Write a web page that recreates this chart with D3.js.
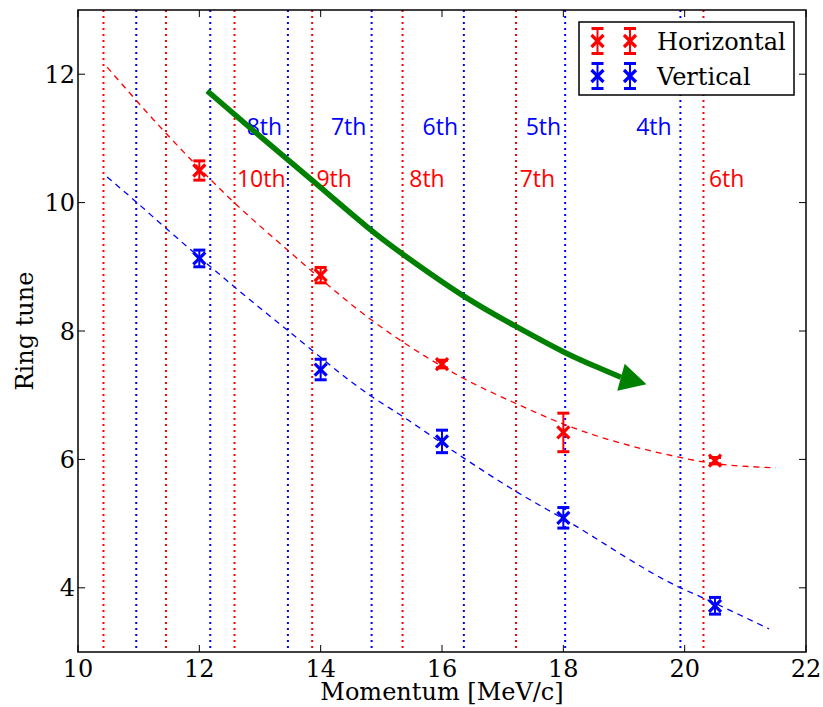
<!DOCTYPE html>
<html lang="en">
  <head>
    <meta charset="UTF-8" />
    <title>Ring tune vs momentum</title>
    <script src="https://cdnjs.cloudflare.com/ajax/libs/d3/7.8.5/d3.min.js"></script>
    <style>
      body { margin: 0; background: #fff; }
      svg { display: block; }
      .tick-label, .axis-label, .legend-text { font-family: "DejaVu Serif", serif; font-size: 24px; fill: #000; }
      .order-label { font-family: "Open Sans", sans-serif; font-size: 23px; }
    </style>
  </head>
  <body>
    <div id="chart"></div>
    <script>
      // data
      const xTicks = [10, 12, 14, 16, 18, 20, 22];
      const yTicks = [4, 6, 8, 10, 12];

      // resonance lines (momentum)
      const redLines = [10.42, 11.45, 12.58, 13.86, 15.35, 17.22, 20.31];
      const blueLines = [10.96, 12.18, 13.46, 14.84, 16.36, 18.03, 19.93];

      const blueLabels = ["8th", "7th", "6th", "5th", "4th"];
      const blueLabelX = [12.78, 14.17, 15.68, 17.38, 19.2];
      const blueLabelY = 11.06;
      const redLabels = ["10th", "9th", "8th", "7th", "6th"];
      const redLabelX = [12.62, 13.93, 15.46, 17.28, 20.4];
      const redLabelY = 10.25;

      // measured tunes
      const momentum = [12, 14, 16, 18, 20.5];
      const hTune = [10.5, 8.87, 7.485, 6.42, 5.98];
      const hErr = [0.15, 0.12, 0.06, 0.3, 0.05];
      const vTune = [9.13, 7.4, 6.28, 5.09, 3.72];
      const vErr = [0.13, 0.16, 0.175, 0.16, 0.13];

      // fitted curves (dashed)
      const hFitX = [10.48, 11.45, 12.575, 13.455, 14.84, 16.36, 17.22, 18.03, 19.93, 20.31, 21.5];
      const hFitY = [12.11, 11.08, 10.0, 9.26, 8.17, 7.26, 6.87, 6.54, 6.03, 5.96, 5.87];
      const vFitX = [10.48, 10.96, 11.45, 12.575, 13.455, 14.84, 15.35, 16.36, 17.22, 18.03, 19.93, 20.31, 21.39];
      const vFitY = [10.4, 10.01, 9.6, 8.69, 8.01, 6.98, 6.67, 6.02, 5.5, 5.06, 4.0, 3.84, 3.36];

      // green arrow
      const arrowX = [12.13, 12.89, 13.86, 14.84, 15.3, 16.36, 17.22, 18.03, 18.6, 18.95];
      const arrowY = [11.74, 11.12, 10.35, 9.55, 9.23, 8.52, 8.07, 7.65, 7.42, 7.28];
      const arrowTip = [19.37, 7.17];

      const width = 823;
      const height = 707;
      const margin = { left: 78, right: 17, top: 10, bottom: 55 };

      const x = d3.scaleLinear().domain([10, 22]).range([margin.left, width - margin.right]);
      const y = d3.scaleLinear().domain([3, 13]).range([height - margin.bottom, margin.top]);

      const svg = d3.select("#chart").append("svg").attr("width", width).attr("height", height);

      const plot = svg.append("g");

      // dotted resonance lines
      const vline = (vals, col) =>
        plot.append("g").selectAll("line").data(vals).join("line")
          .attr("x1", (d) => x(d)).attr("x2", (d) => x(d))
          .attr("y1", y(13)).attr("y2", y(3))
          .attr("stroke", col).attr("stroke-width", 2).attr("stroke-dasharray", "2,4");
      vline(redLines, "#ff0000");
      vline(blueLines, "#0000ff");

      // fit curves
      const line = d3.line().x((d) => x(d[0])).y((d) => y(d[1])).curve(d3.curveMonotoneX);
      plot.append("path").datum(d3.zip(hFitX, hFitY)).attr("d", line)
        .attr("fill", "none").attr("stroke", "#ff0000").attr("stroke-width", 1.3).attr("stroke-dasharray", "6,5");
      plot.append("path").datum(d3.zip(vFitX, vFitY)).attr("d", line)
        .attr("fill", "none").attr("stroke", "#0000ff").attr("stroke-width", 1.3).attr("stroke-dasharray", "6,5");

      // error bars with x markers
      function errbar(g, cx, cy, ytop, ybot, col) {
        g.append("line").attr("x1", cx).attr("x2", cx).attr("y1", ytop).attr("y2", ybot)
          .attr("stroke", col).attr("stroke-width", 2);
        [ytop, ybot].forEach((yy) =>
          g.append("line").attr("x1", cx - 6).attr("x2", cx + 6).attr("y1", yy).attr("y2", yy)
            .attr("stroke", col).attr("stroke-width", 3));
        const m = 6;
        g.append("path")
          .attr("d", `M${cx - m},${cy - m}L${cx + m},${cy + m}M${cx - m},${cy + m}L${cx + m},${cy - m}`)
          .attr("stroke", col).attr("stroke-width", 3.2);
      }
      const points = plot.append("g");
      momentum.forEach((p, i) => {
        errbar(points, x(p), y(hTune[i]), y(hTune[i] + hErr[i]), y(hTune[i] - hErr[i]), "#ff0000");
        errbar(points, x(p), y(vTune[i]), y(vTune[i] + vErr[i]), y(vTune[i] - vErr[i]), "#0000ff");
      });

      // order labels
      plot.append("g").selectAll("text").data(blueLabels).join("text")
        .attr("class", "order-label").attr("fill", "#0000ff")
        .attr("x", (d, i) => x(blueLabelX[i])).attr("y", y(blueLabelY)).text((d) => d);
      plot.append("g").selectAll("text").data(redLabels).join("text")
        .attr("class", "order-label").attr("fill", "#ff0000")
        .attr("x", (d, i) => x(redLabelX[i])).attr("y", y(redLabelY)).text((d) => d);

      // green arrow
      const arrowPts = d3.zip(arrowX, arrowY);
      plot.append("path").datum(arrowPts)
        .attr("d", d3.line().x((d) => x(d[0])).y((d) => y(d[1])).curve(d3.curveBasis))
        .attr("fill", "none").attr("stroke", "#008000").attr("stroke-width", 5.5);
      const base = arrowPts[arrowPts.length - 1];
      const bx = x(base[0]), by = y(base[1]);
      const tx = x(arrowTip[0]), ty = y(arrowTip[1]);
      const len = Math.hypot(tx - bx, ty - by);
      const px = -(ty - by) / len, py = (tx - bx) / len;
      const hw = 14;
      plot.append("path")
        .attr("d", `M${bx + px * hw},${by + py * hw}L${tx},${ty}L${bx - px * hw},${by - py * hw}Z`)
        .attr("fill", "#008000");

      // frame
      svg.append("rect")
        .attr("x", x(10)).attr("y", y(13)).attr("width", x(22) - x(10)).attr("height", y(3) - y(13))
        .attr("fill", "none").attr("stroke", "#000").attr("stroke-width", 1.5);

      // inward ticks on all sides
      const tl = 7;
      const ticks = svg.append("g").attr("stroke", "#000").attr("stroke-width", 1);
      xTicks.forEach((t) => {
        ticks.append("line").attr("x1", x(t)).attr("x2", x(t)).attr("y1", y(3)).attr("y2", y(3) - tl);
        ticks.append("line").attr("x1", x(t)).attr("x2", x(t)).attr("y1", y(13)).attr("y2", y(13) + tl);
      });
      yTicks.forEach((t) => {
        ticks.append("line").attr("x1", x(10)).attr("x2", x(10) + tl).attr("y1", y(t)).attr("y2", y(t));
        ticks.append("line").attr("x1", x(22)).attr("x2", x(22) - tl).attr("y1", y(t)).attr("y2", y(t));
      });

      svg.append("g").selectAll("text").data(xTicks).join("text")
        .attr("class", "tick-label").attr("text-anchor", "middle")
        .attr("x", (d) => x(d)).attr("y", y(3) + 25).text((d) => d);
      svg.append("g").selectAll("text").data(yTicks).join("text")
        .attr("class", "tick-label").attr("text-anchor", "end")
        .attr("x", x(10) - 3).attr("y", (d) => y(d)).attr("dy", "0.36em").text((d) => d);

      svg.append("text").attr("class", "axis-label").attr("text-anchor", "middle")
        .attr("x", (x(10) + x(22)) / 2).attr("y", 700).text("Momentum [MeV/c]");
      svg.append("text").attr("class", "axis-label").attr("text-anchor", "middle")
        .attr("transform", `translate(33,${(y(3) + y(13)) / 2}) rotate(-90)`).text("Ring tune");

      // legend
      const legend = svg.append("g");
      legend.append("rect").attr("x", 579).attr("y", 22).attr("width", 215).attr("height", 73)
        .attr("fill", "#fff").attr("stroke", "#000").attr("stroke-width", 1.5);
      const legendItems = [
        { name: "Horizontal", color: "#ff0000", cy: 41 },
        { name: "Vertical", color: "#0000ff", cy: 76 },
      ];
      legendItems.forEach((it) => {
        [597.5, 630].forEach((lx) => errbar(legend, lx, it.cy, it.cy - 12.5, it.cy + 12.5, it.color));
        legend.append("text").attr("class", "legend-text").attr("x", 657).attr("y", it.cy + 8.5).text(it.name);
      });
    </script>
  </body>
</html>
